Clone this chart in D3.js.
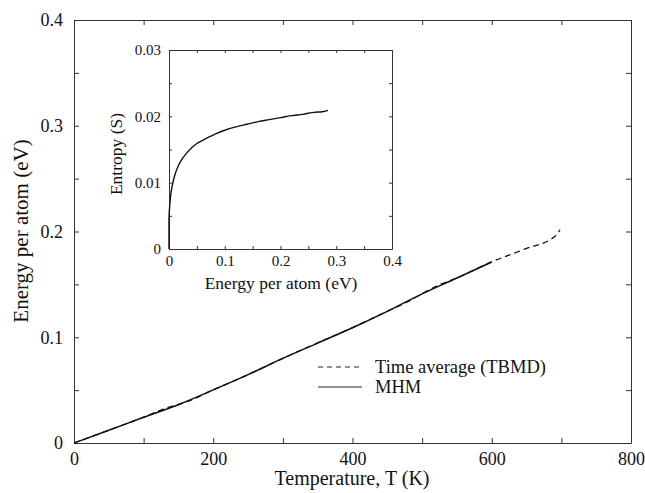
<!DOCTYPE html>
<html lang="en">

<head>
    <meta charset="UTF-8">
    <title>Energy per atom vs temperature</title>
    <style>
        body {
            margin: 0;
            background: #fff;
        }

        svg {
            display: block;
        }

        svg text {
            font-family: 'Liberation Serif', 'DejaVu Serif', 'Times New Roman', Times, serif;
        }

        .axis text {
            fill: #111;
        }

        .axis path,
        .axis line {
            stroke: #333;
        }
    </style>
</head>

<body>
    <div class="box"></div>
    <script src="https://d3js.org/d3.v7.min.js"></script>

    <script>
        const width = 645;
        const height = 493;

        // main plot: energy per atom (eV) vs temperature (K)
        const mhmTemp = [0, 50, 100, 150, 200, 250, 300, 350, 400, 450, 500, 550, 600];
        const mhmEnergy = [0, 0.0120, 0.0243, 0.0362, 0.0502, 0.0647, 0.0800, 0.0945, 0.1090, 0.1245, 0.1410, 0.1560, 0.1712];

        const tbmdTemp = [0, 50, 100, 135, 150, 165, 200, 250, 300, 350, 400, 450, 480, 500, 520, 550, 600, 650, 690, 698];
        const tbmdEnergy = [0, 0.0121, 0.0244, 0.0336, 0.0366, 0.0398, 0.0503, 0.0646, 0.0801, 0.0946, 0.1091, 0.1246, 0.1338, 0.1412, 0.1482, 0.1561, 0.1713, 0.1840, 0.1950, 0.2015];

        // inset: entropy vs energy per atom
        const insetEnergy = [0, 0, 0.0005, 0.001, 0.002, 0.004, 0.007, 0.01, 0.015, 0.02, 0.03, 0.04, 0.05, 0.065, 0.08, 0.1, 0.12, 0.14, 0.16, 0.18, 0.2, 0.22, 0.24, 0.26, 0.275, 0.285];
        const insetEntropy = [0, 0.0045, 0.0056, 0.0062, 0.0073, 0.0087, 0.0100, 0.0110, 0.0122, 0.0131, 0.0143, 0.0152, 0.0159, 0.0166, 0.0172, 0.0179, 0.0184, 0.0188, 0.0192, 0.0195, 0.0198, 0.0201, 0.0203, 0.0206, 0.0207, 0.0209];

        // tick labels
        const tempTicks = [0, 200, 400, 600, 800];
        const energyTicks = [0, 0.1, 0.2, 0.3, 0.4];
        const insetEnergyTicks = [0, 0.1, 0.2, 0.3, 0.4];
        const insetEntropyTicks = [0, 0.01, 0.02, 0.03];

        const svg = d3.select('.box')
            .append('svg')
            .attr('width', width)
            .attr('height', height);

        // minor ticks halfway between labelled ones
        function withMinor(ticks) {
            const out = [];
            ticks.forEach((t, i) => {
                out.push(t);
                if (i < ticks.length - 1) out.push(+((t + ticks[i + 1]) / 2).toFixed(6));
            });
            return out;
        }

        function labelOf(ticks) {
            return d => ticks.includes(d) ? String(d) : '';
        }

        function drawFrame(g, x, y, xTicks, yTicks, tick, pad, fontSize) {
            const [x0, x1] = x.range();
            const [y0, y1] = y.range();

            g.append('g').attr('class', 'axis')
                .attr('transform', `translate(0, ${y0})`)
                .call(d3.axisBottom(x).tickValues(withMinor(xTicks)).tickFormat(labelOf(xTicks))
                    .tickSizeInner(-tick).tickSizeOuter(0).tickPadding(pad))
                .attr('font-size', fontSize).attr('font-family', null);

            g.append('g').attr('class', 'axis')
                .attr('transform', `translate(0, ${y1})`)
                .call(d3.axisTop(x).tickValues(withMinor(xTicks)).tickFormat('')
                    .tickSizeInner(-tick).tickSizeOuter(0));

            g.append('g').attr('class', 'axis')
                .attr('transform', `translate(${x0}, 0)`)
                .call(d3.axisLeft(y).tickValues(withMinor(yTicks)).tickFormat(labelOf(yTicks))
                    .tickSizeInner(-tick).tickSizeOuter(0).tickPadding(pad + 2))
                .attr('font-size', fontSize).attr('font-family', null);

            g.append('g').attr('class', 'axis')
                .attr('transform', `translate(${x1}, 0)`)
                .call(d3.axisRight(y).tickValues(withMinor(yTicks)).tickFormat('')
                    .tickSizeInner(-tick).tickSizeOuter(0));
        }

        // ---- main plot ----
        const x = d3.scaleLinear().domain([0, 800]).range([74, 631]);
        const y = d3.scaleLinear().domain([0, 0.4]).range([443, 20]);

        const main = svg.append('g');
        drawFrame(main, x, y, tempTicks, energyTicks, 5, 9, 18);

        const line = d3.line()
            .x(d => x(d[0]))
            .y(d => y(d[1]))
            .curve(d3.curveMonotoneX);

        main.append('path')
            .datum(d3.zip(tbmdTemp, tbmdEnergy))
            .attr('d', line)
            .attr('fill', 'none')
            .attr('stroke', '#111')
            .attr('stroke-width', 1.3)
            .attr('stroke-dasharray', '6,4');

        main.append('path')
            .datum(d3.zip(mhmTemp, mhmEnergy))
            .attr('d', line)
            .attr('fill', 'none')
            .attr('stroke', '#111')
            .attr('stroke-width', 1.5);

        main.append('text')
            .attr('x', 352)
            .attr('y', 485)
            .attr('text-anchor', 'middle')
            .attr('font-size', 20)
            .attr('fill', '#111')
            .text('Temperature, T (K)');

        main.append('text')
            .attr('transform', `translate(28, 231) rotate(-90)`)
            .attr('text-anchor', 'middle')
            .attr('font-size', 21)
            .attr('fill', '#111')
            .text('Energy per atom (eV)');

        // legend
        const legend = main.append('g');
        const legendItems = [
            { label: 'Time average (TBMD)', dash: '5,4', y: 367 },
            { label: 'MHM', dash: null, y: 387 }
        ];
        legendItems.forEach(d => {
            legend.append('line')
                .attr('x1', 318).attr('x2', 362)
                .attr('y1', d.y).attr('y2', d.y)
                .attr('stroke', '#222')
                .attr('stroke-width', 1)
                .attr('stroke-dasharray', d.dash);
            legend.append('text')
                .attr('x', 375).attr('y', d.y + 6)
                .attr('font-size', 18.5)
                .attr('fill', '#111')
                .text(d.label);
        });

        // ---- inset ----
        const ix = d3.scaleLinear().domain([0, 0.4]).range([169, 392]);
        const iy = d3.scaleLinear().domain([0, 0.03]).range([249, 50]);

        const inset = svg.append('g');
        inset.append('rect')
            .attr('x', 169).attr('y', 50)
            .attr('width', 392 - 169).attr('height', 249 - 50)
            .attr('fill', '#fff');
        drawFrame(inset, ix, iy, insetEnergyTicks, insetEntropyTicks, 3, 6, 15);

        inset.append('path')
            .datum(d3.zip(insetEnergy, insetEntropy))
            .attr('d', d3.line().x(d => ix(d[0])).y(d => iy(d[1])).curve(d3.curveMonotoneY))
            .attr('fill', 'none')
            .attr('stroke', '#111')
            .attr('stroke-width', 1.4);

        inset.append('text')
            .attr('x', 281)
            .attr('y', 289)
            .attr('text-anchor', 'middle')
            .attr('font-size', 17.5)
            .attr('fill', '#111')
            .text('Energy per atom (eV)');

        inset.append('text')
            .attr('transform', `translate(122, 154) rotate(-90)`)
            .attr('text-anchor', 'middle')
            .attr('font-size', 17.5)
            .attr('fill', '#111')
            .text('Entropy (S)');
    </script>
</body>

</html>
